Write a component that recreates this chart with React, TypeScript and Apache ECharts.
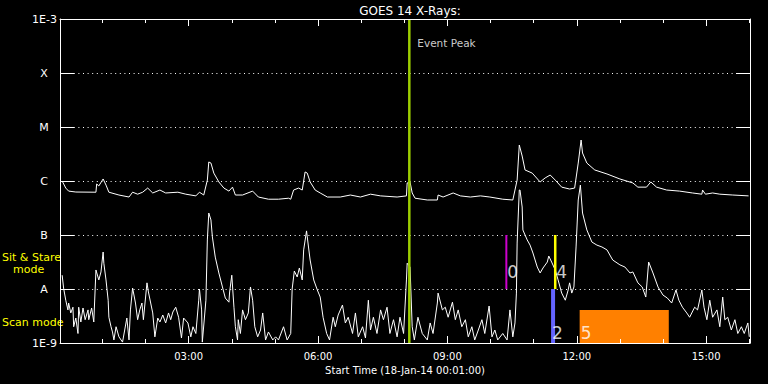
import React, { useEffect, useRef } from "react";
import * as echarts from "echarts";

// time in minutes after 00:00 on 18-Jan-14, flux in W/m^2
const goesLong: [number, number][] = [
  [4, 1.0e-6], [9, 7.4e-7], [13, 6.5e-7], [23, 6.25e-7], [51, 6.2e-7], [52, 8.8e-7], [55, 8.1e-7], [61, 1.09e-6],
  [65, 8.4e-7], [69, 6.2e-7], [83, 5.5e-7], [97, 5.05e-7], [102, 6.2e-7], [109, 5.7e-7], [116, 6.2e-7], [123, 7.4e-7],
  [130, 6.0e-7], [140, 6.8e-7], [148, 6.0e-7], [165, 6.2e-7], [176, 5.7e-7], [190, 5.3e-7], [195, 6.2e-7], [201, 5.5e-7],
  [206, 1.04e-6], [208, 2.25e-6], [211, 2.15e-6], [215, 1.4e-6], [222, 9.6e-7], [229, 7.4e-7], [236, 6.5e-7], [241, 7.7e-7],
  [245, 5.5e-7], [255, 5.5e-7], [269, 6.5e-7], [277, 5.05e-7], [291, 4.6e-7], [305, 4.6e-7], [319, 4.8e-7], [322, 4.6e-7],
  [326, 6.8e-7], [333, 7.4e-7], [338, 6.8e-7], [342, 1.47e-6], [345, 1.4e-6], [349, 9.6e-7], [356, 6.8e-7], [363, 6.0e-7],
  [373, 5.05e-7], [391, 5.05e-7], [405, 5.5e-7], [419, 5.05e-7], [433, 5.7e-7], [447, 5.3e-7], [470, 5.05e-7], [483, 5.3e-7],
  [484, 9.2e-7], [488, 9.6e-7], [491, 6.0e-7], [495, 4.8e-7], [512, 4.45e-7], [526, 4.45e-7], [527, 5.5e-7], [534, 5.05e-7],
  [548, 6.0e-7], [558, 5.3e-7], [572, 5.05e-7], [586, 5.3e-7], [599, 5.05e-7], [617, 4.6e-7], [631, 4.45e-7], [637, 1.04e-6],
  [640, 4.64e-6], [644, 2.9e-6], [648, 1.6e-6], [658, 1.4e-6], [669, 9.6e-7], [676, 1.14e-6], [683, 1.29e-6], [690, 1.04e-6],
  [699, 7.7e-7], [710, 7.1e-7], [717, 7.4e-7], [722, 2.15e-6], [726, 5.74e-6], [728, 3.3e-6], [734, 2.15e-6], [745, 1.6e-6],
  [762, 1.35e-6], [780, 1.09e-6], [798, 9.2e-7], [805, 7.7e-7], [817, 7.7e-7], [823, 9.6e-7], [831, 7.7e-7], [845, 6.8e-7],
  [863, 6.5e-7], [881, 6.0e-7], [894, 5.7e-7], [895, 6.8e-7], [899, 5.7e-7], [909, 6.0e-7], [919, 5.7e-7], [937, 5.5e-7],
  [959, 5.3e-7],
];

const goesShort: [number, number][] = [
  [4, 1.8e-8], [6, 1.04e-8], [9, 6.2e-9], [12, 4.1e-9], [13, 5.5e-9], [16, 3.6e-9], [19, 4.6e-9], [20, 2.0e-9],
  [23, 2.9e-9], [26, 1.5e-9], [27, 4.6e-9], [30, 2.45e-9], [33, 4.45e-9], [36, 2.7e-9], [40, 4.1e-9], [41, 2.7e-9],
  [45, 4.45e-9], [48, 2.45e-9], [51, 2.25e-8], [55, 1.47e-8], [58, 2.07e-8], [61, 4.84e-8], [62, 3.0e-8], [65, 1.47e-8],
  [68, 6.2e-9], [69, 3.0e-9], [72, 2.0e-9], [74, 1.6e-9], [76, 1.14e-9], [79, 2.0e-9], [83, 1.3e-9], [88, 1.04e-9],
  [94, 2.9e-9], [97, 1.14e-9], [99, 4.1e-9], [102, 1.04e-8], [106, 5.5e-9], [109, 2.7e-9], [112, 4.1e-9], [115, 5.5e-9],
  [117, 2.7e-9], [122, 1.3e-8], [124, 8.8e-9], [130, 3.6e-9], [133, 1.3e-9], [137, 2.9e-9], [140, 2.45e-9], [144, 3.3e-9],
  [148, 2.35e-9], [152, 3.6e-9], [155, 2.7e-9], [158, 3.75e-9], [162, 4.6e-9], [166, 3.0e-9], [170, 1.24e-9], [173, 2.9e-9],
  [179, 2.35e-9], [183, 1.3e-9], [186, 2.0e-9], [190, 1.5e-9], [194, 6.2e-9], [195, 1.0e-8], [198, 4.1e-9], [199, 1.04e-9],
  [204, 6.2e-9], [206, 8.1e-8], [208, 2.55e-7], [211, 1.9e-7], [213, 9.2e-8], [217, 3.9e-8], [222, 1.98e-8], [227, 1.09e-8],
  [231, 6.8e-9], [236, 5.7e-9], [237, 8.8e-9], [240, 1.8e-8], [243, 4.6e-9], [245, 2.0e-9], [248, 1.14e-9], [249, 2.7e-9],
  [252, 1.5e-9], [255, 4.1e-9], [259, 2.7e-9], [263, 3.6e-9], [266, 1.09e-8], [269, 6.2e-9], [272, 2.0e-9], [276, 1.3e-9],
  [280, 1.74e-9], [283, 3.6e-9], [287, 1.14e-9], [291, 1.6e-9], [297, 1.14e-9], [301, 1.3e-9], [305, 1.14e-9], [312, 2.0e-9],
  [317, 1.14e-9], [322, 1.5e-9], [324, 1.0e-8], [327, 2.15e-8], [331, 1.67e-8], [334, 2.45e-8], [338, 1.47e-8], [340, 5.3e-8],
  [344, 1.19e-7], [345, 9.2e-8], [349, 3.44e-8], [354, 1.47e-8], [359, 9.6e-9], [363, 7.1e-9], [367, 3.0e-9], [372, 1.5e-9],
  [376, 1.14e-9], [381, 3.0e-9], [384, 2.0e-9], [388, 3.3e-9], [394, 5.05e-9], [398, 2.35e-9], [402, 3.0e-9], [408, 1.5e-9],
  [412, 3.6e-9], [416, 1.3e-9], [422, 2.0e-9], [426, 1.24e-9], [430, 6.2e-9], [433, 1.74e-9], [437, 3.0e-9], [442, 1.5e-9],
  [447, 4.1e-9], [451, 2.7e-9], [456, 4.6e-9], [460, 1.5e-9], [465, 2.7e-9], [470, 1.3e-9], [474, 3.0e-9], [479, 1.5e-9],
  [483, 1.47e-8], [484, 3.0e-8], [488, 2.55e-8], [491, 2.0e-9], [494, 1.14e-9], [499, 3.0e-9], [505, 1.5e-9], [512, 1.14e-9],
  [516, 2.35e-9], [520, 1.5e-9], [526, 5.5e-9], [527, 8.4e-9], [533, 4.1e-9], [537, 4.6e-9], [541, 3.0e-9], [547, 5.7e-9],
  [551, 2.7e-9], [555, 4.1e-9], [560, 2.0e-9], [565, 2.7e-9], [569, 1.3e-9], [574, 2.0e-9], [578, 1.14e-9], [583, 1.74e-9],
  [588, 2.7e-9], [592, 1.5e-9], [598, 4.84e-9], [602, 1.3e-9], [606, 1.74e-9], [610, 1.14e-9], [617, 1.5e-9], [623, 1.14e-9],
  [627, 4.1e-9], [631, 1.3e-9], [634, 2.35e-9], [636, 8.4e-9], [637, 7.1e-8], [640, 6.8e-7], [641, 6.8e-7], [644, 3.3e-7],
  [645, 1.24e-7], [651, 8.1e-8], [655, 6.5e-8], [659, 4.64e-8], [665, 2.55e-8], [669, 1.98e-8], [673, 2.45e-8], [679, 3.16e-8],
  [681, 4.08e-8], [685, 3.16e-8], [690, 2.25e-8], [694, 1.47e-8], [699, 8.4e-9], [704, 6.2e-9], [708, 9.6e-9], [710, 1.3e-8],
  [713, 8.4e-9], [716, 1.09e-8], [719, 6.0e-8], [722, 4.45e-7], [725, 8.4e-7], [728, 2.55e-7], [734, 1.24e-7], [741, 7.4e-8],
  [748, 6.5e-8], [755, 6.0e-8], [762, 5.3e-8], [770, 3.44e-8], [780, 2.8e-8], [787, 2.55e-8], [794, 1.98e-8], [798, 2.07e-8],
  [805, 1.3e-8], [811, 1.09e-8], [816, 7.1e-9], [820, 3.16e-8], [826, 1.98e-8], [833, 1.09e-8], [840, 7.7e-9], [846, 6.8e-9],
  [852, 5.5e-9], [858, 9.6e-9], [862, 6.2e-9], [867, 4.6e-9], [873, 3.6e-9], [877, 3.0e-9], [884, 4.6e-9], [888, 4.1e-9],
  [894, 9.6e-9], [897, 4.6e-9], [901, 2.7e-9], [905, 6.2e-9], [909, 3.0e-9], [915, 4.1e-9], [919, 2.0e-9], [923, 7.1e-9],
  [926, 2.7e-9], [930, 3.0e-9], [935, 1.74e-9], [940, 2.7e-9], [944, 1.5e-9], [949, 2.0e-9], [953, 1.5e-9], [958, 2.35e-9],
  [960, 1.3e-9],
];

// axis settings
const xMin = 1; // 00:01
const xMax = 961; // 16:01
const majorTickMinutes = [180, 360, 540, 720, 900];
const hourTickMinutes = [60, 120, 180, 240, 300, 360, 420, 480, 540, 600, 660, 720, 780, 840, 900, 960];
const yTickExponents = [-9, -8, -7, -6, -5, -4, -3];
const yTickLabels = ["1E-9", "A", "B", "C", "M", "X", "1E-3"];

// event markers
const eventPeakTime = 487;
const sitStareMarks = [
  { id: "0", time: 622, color: "#cc00cc", width: 2 },
  { id: "4", time: 690, color: "#ffff00", width: 2.5 },
];
const sitStareRange = [1e-8, 1e-7];
const scanMarks = [{ id: "2", time: 687, color: "#6464ff", width: 4 }];
const scanRange = [1e-9, 1e-8];
const scanWindows = [{ id: "5", start: 724, end: 848, low: 1e-9, high: 4.1e-9 }];

const FONT = "DejaVu Sans";

function fmtTime(v: number): string {
  const h = Math.floor(v / 60);
  const m = Math.round(v % 60);
  return String(h).padStart(2, "0") + ":" + String(m).padStart(2, "0");
}

export default function App() {
  const ref = useRef<HTMLDivElement>(null);
  useEffect(() => {
    document.body.style.margin = "0";
    document.body.style.background = "#000";
    const chart = echarts.init(ref.current!, undefined, { renderer: "svg" });

    const axisWhite = { lineStyle: { color: "#ffffff", width: 1 } };
    const baseX = {
      type: "value" as const,
      min: xMin,
      max: xMax,
      splitLine: { show: false },
    };
    const baseY = {
      type: "log" as const,
      logBase: 10,
      min: 1e-9,
      max: 1e-3,
    };

    const labelPoints = [
      ...sitStareMarks.map((m) => ({ value: [m.time, 2.07e-8], label: m.id, dist: 1 })),
      ...scanMarks.map((m) => ({ value: [m.time, 1.53e-9], label: m.id, dist: -1 })),
      ...scanWindows.map((w) => ({ value: [w.start, 1.53e-9], label: w.id, dist: 1 })),
    ];

    const option: any = {
      animation: false,
      backgroundColor: "#000000",
      title: {
        text: "GOES 14 X-Rays:",
        left: 405,
        textAlign: "center",
        top: 0,
        textStyle: { color: "#ffffff", fontFamily: FONT, fontSize: 12, fontWeight: "normal" },
      },
      grid: { left: 60, right: 18, top: 19, bottom: 41, containLabel: false, outerBoundsMode: "none" },
      xAxis: [
        {
          ...baseX,
          position: "bottom",
          axisLine: { show: true, ...axisWhite },
          axisTick: { show: true, inside: true, length: 7, customValues: majorTickMinutes, ...axisWhite },
          axisLabel: {
            customValues: majorTickMinutes,
            formatter: (v: number) => fmtTime(v),
            color: "#ffffff",
            fontFamily: FONT,
            fontSize: 10,
            margin: 8,
          },
          name: "Start Time (18-Jan-14 00:01:00)",
          nameLocation: "middle",
          nameGap: 21,
          nameTextStyle: { color: "#ffffff", fontFamily: FONT, fontSize: 10 },
          z: 10,
        },
        {
          ...baseX,
          position: "bottom",
          axisLine: { show: false },
          axisTick: { show: true, inside: true, length: 4, customValues: hourTickMinutes, ...axisWhite },
          axisLabel: { show: false },
          z: 10,
        },
        {
          ...baseX,
          position: "top",
          axisLine: { show: true, ...axisWhite },
          axisTick: { show: true, inside: true, length: 7, customValues: majorTickMinutes, ...axisWhite },
          axisLabel: { show: false },
          z: 10,
        },
        {
          ...baseX,
          position: "top",
          axisLine: { show: false },
          axisTick: { show: true, inside: true, length: 4, customValues: hourTickMinutes, ...axisWhite },
          axisLabel: { show: false },
          z: 10,
        },
      ],
      yAxis: [
        {
          ...baseY,
          position: "left",
          axisLine: { show: true, ...axisWhite },
          axisTick: { show: true, inside: true, length: 14, ...axisWhite },
          axisLabel: {
            color: "#ffffff",
            fontFamily: FONT,
            fontSize: 11,
            margin: 3,
            formatter: (v: number) => {
              const e = Math.round(Math.log10(v));
              const i = yTickExponents.indexOf(e);
              const lab = i >= 0 ? yTickLabels[i] : "";
              return lab.length === 1 ? `{c|${lab}}` : `{w|${lab}}`;
            },
            rich: {
              c: { width: 26, align: "center", color: "#ffffff", fontFamily: FONT, fontSize: 11 },
              w: { color: "#ffffff", fontFamily: FONT, fontSize: 11 },
            },
          },
          splitLine: { show: true, lineStyle: { color: "#ffffff", width: 1, type: [1, 3.6] } },
        },
        {
          ...baseY,
          position: "right",
          axisLine: { show: true, ...axisWhite },
          axisTick: { show: true, inside: true, length: 14, ...axisWhite },
          axisLabel: { show: false },
          splitLine: { show: false },
        },
      ],
      graphic: [
        { type: "text", left: 2, top: 252, style: { text: "Sit & Stare", fill: "#ffff00", font: `11px "${FONT}"` } },
        { type: "text", left: 13, top: 264, style: { text: "mode", fill: "#ffff00", font: `11px "${FONT}"` } },
        { type: "text", left: 2, top: 317, style: { text: "Scan mode", fill: "#ffff00", font: `11px "${FONT}"` } },
      ],
      series: [
        {
          type: "line",
          name: "long",
          data: goesLong,
          showSymbol: false,
          lineStyle: { color: "#ffffff", width: 1 },
          z: 2,
        },
        {
          type: "line",
          name: "short",
          data: goesShort,
          showSymbol: false,
          lineStyle: { color: "#ffffff", width: 1 },
          z: 2,
        },
        {
          type: "custom",
          name: "scanWindow",
          data: scanWindows.map((w) => [w.start, w.end, w.low, w.high]),
          encode: { x: [0, 1], y: [2, 3] },
          renderItem: (params: any, api: any) => {
            const p0 = api.coord([api.value(0), api.value(3)]);
            const p1 = api.coord([api.value(1), api.value(2)]);
            return {
              type: "rect",
              shape: { x: p0[0], y: p0[1], width: p1[0] - p0[0], height: p1[1] - p0[1] },
              style: { fill: "#ff8000" },
            };
          },
          z: 5,
        },
        ...sitStareMarks.map((m) => ({
          type: "line",
          data: [[m.time, sitStareRange[0]], [m.time, sitStareRange[1]]],
          showSymbol: false,
          lineStyle: { color: m.color, width: m.width },
          z: 5,
        })),
        ...scanMarks.map((m) => ({
          type: "line",
          data: [[m.time, scanRange[0]], [m.time, scanRange[1]]],
          showSymbol: false,
          lineStyle: { color: m.color, width: m.width },
          z: 5,
        })),
        {
          type: "line",
          name: "eventPeak",
          data: [[eventPeakTime, 1e-9], [eventPeakTime, 1e-3]],
          showSymbol: false,
          lineStyle: { color: "#9ccd00", width: 2.5 },
          z: 6,
        },
        {
          type: "scatter",
          name: "labels",
          symbolSize: 0,
          data: [
            ...labelPoints.map((p) => ({
              value: p.value,
              label: {
                show: true,
                position: "right",
                distance: p.dist,
                formatter: p.label,
                color: "#ffffff",
                fontFamily: FONT,
                fontSize: 17,
              },
            })),
            {
              value: [eventPeakTime, 3.6e-4],
              label: {
                show: true,
                position: "right",
                distance: 8,
                formatter: "Event Peak",
                color: "#ffffff",
                fontFamily: FONT,
                fontSize: 10.5,
              },
            },
          ],
          z: 10,
        },
      ],
    };
    chart.setOption(option);
    return () => chart.dispose();
  }, []);
  return <div ref={ref} style={{ position: "fixed", left: 0, top: 0, width: 768, height: 384 }} />;
}
